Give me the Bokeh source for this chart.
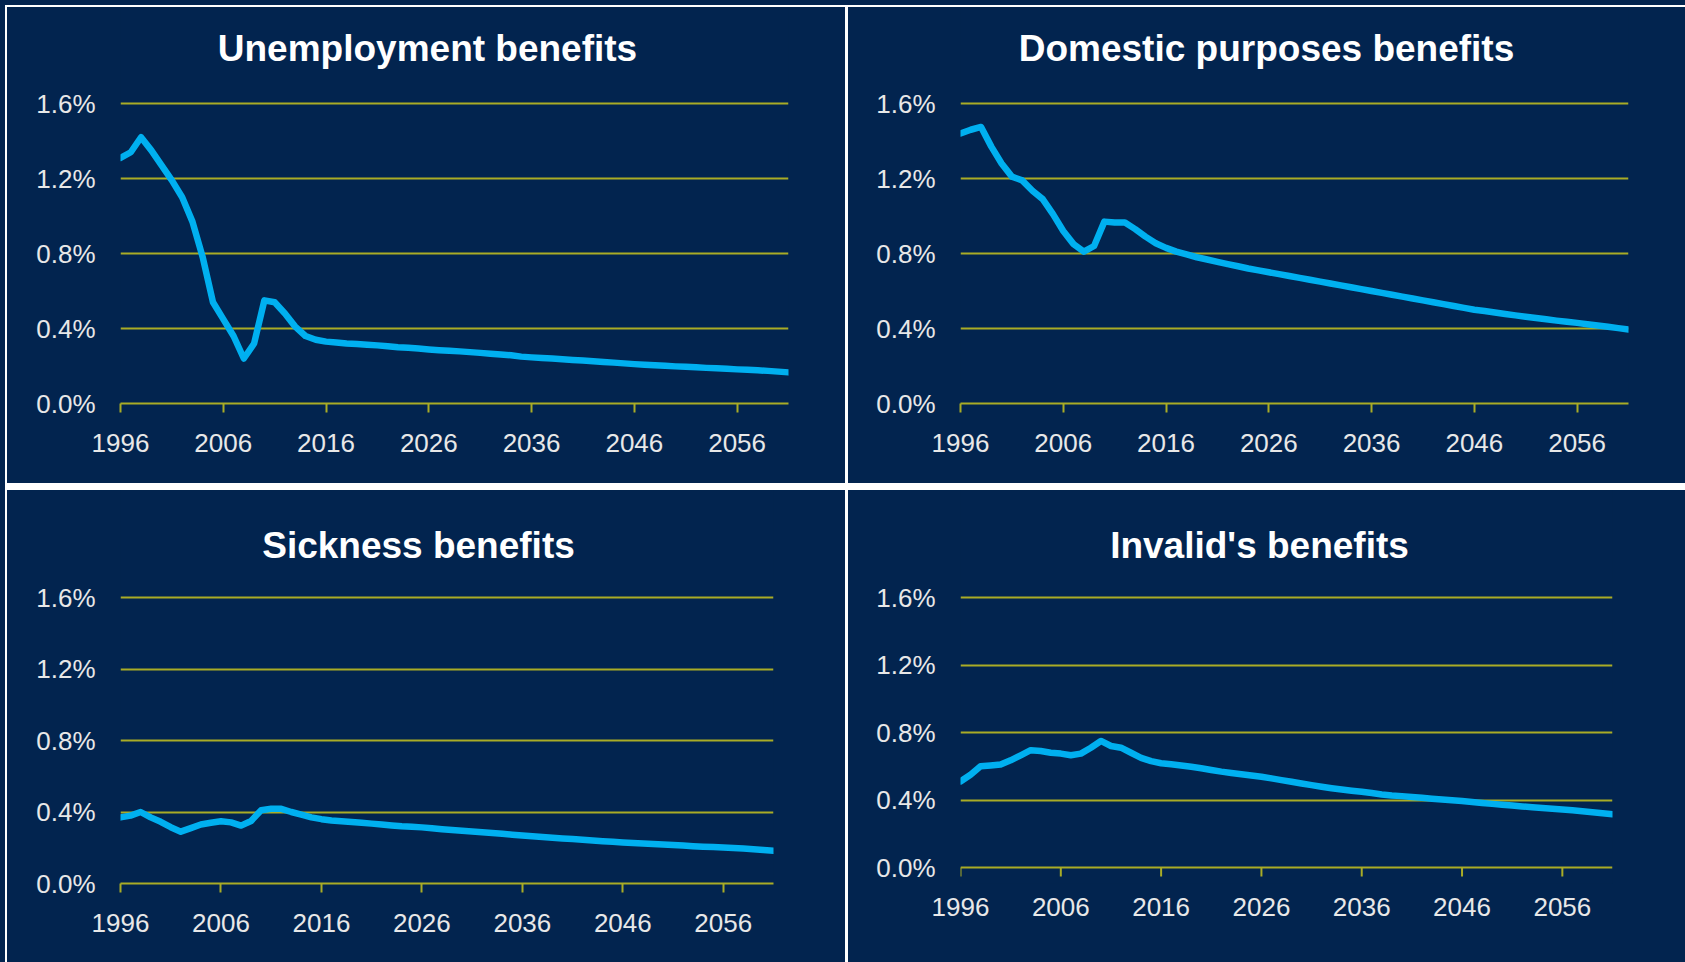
from bokeh.plotting import figure
from bokeh.layouts import row, column
from bokeh.models import Range1d, FixedTicker, PrintfTickFormatter, Spacer, Label
from bokeh.embed import file_html
from bokeh.resources import INLINE

years = list(range(1996, 2062))

unemployment = [1.31, 1.34, 1.42, 1.35, 1.27, 1.19, 1.10, 0.97, 0.78, 0.54,
                0.45, 0.36, 0.24, 0.32, 0.55, 0.54, 0.48, 0.41, 0.36, 0.34,
                0.33, 0.325, 0.32, 0.317, 0.313, 0.31, 0.305, 0.30, 0.297, 0.293,
                0.288, 0.284, 0.281, 0.278, 0.274, 0.27, 0.265, 0.261, 0.257, 0.25,
                0.246, 0.243, 0.24, 0.236, 0.232, 0.229, 0.225, 0.221, 0.218, 0.214,
                0.21, 0.207, 0.204, 0.201, 0.198, 0.196, 0.193, 0.19, 0.188, 0.185,
                0.182, 0.18, 0.177, 0.174, 0.17, 0.166]

domestic = [1.44, 1.46, 1.475, 1.37, 1.28, 1.21, 1.19, 1.135, 1.09, 1.01,
            0.92, 0.85, 0.81, 0.84, 0.97, 0.965, 0.965, 0.93, 0.89, 0.855,
            0.83, 0.81, 0.795, 0.78, 0.768, 0.755, 0.743, 0.732, 0.72, 0.71,
            0.70, 0.69, 0.68, 0.67, 0.66, 0.65, 0.64, 0.63, 0.62, 0.61,
            0.60, 0.59, 0.58, 0.57, 0.56, 0.55, 0.54, 0.53, 0.52, 0.51,
            0.50, 0.493, 0.485, 0.477, 0.47, 0.463, 0.456, 0.449, 0.442, 0.436,
            0.43, 0.423, 0.416, 0.409, 0.402, 0.395]

sickness = [0.37, 0.38, 0.40, 0.37, 0.345, 0.315, 0.29, 0.31, 0.33, 0.34,
            0.348, 0.342, 0.324, 0.35, 0.41, 0.418, 0.418, 0.40, 0.385, 0.37,
            0.36, 0.353, 0.348, 0.344, 0.34, 0.335, 0.33, 0.325, 0.32, 0.317,
            0.314, 0.309, 0.304, 0.299, 0.295, 0.291, 0.287, 0.283, 0.278, 0.273,
            0.268, 0.264, 0.26, 0.256, 0.252, 0.249, 0.245, 0.241, 0.237, 0.234,
            0.23, 0.227, 0.224, 0.221, 0.218, 0.215, 0.212, 0.209, 0.206, 0.204,
            0.202, 0.199, 0.196, 0.192, 0.188, 0.183]

invalid = [0.51, 0.55, 0.60, 0.605, 0.61, 0.635, 0.665, 0.695, 0.69, 0.68,
           0.675, 0.665, 0.675, 0.71, 0.75, 0.72, 0.71, 0.68, 0.65, 0.63,
           0.618, 0.612, 0.605, 0.597, 0.588, 0.578, 0.568, 0.56, 0.553, 0.545,
           0.538, 0.528, 0.518, 0.508, 0.498, 0.488, 0.479, 0.47, 0.462, 0.455,
           0.449, 0.441, 0.433, 0.427, 0.423, 0.418, 0.413, 0.408, 0.403, 0.398,
           0.394, 0.388, 0.382, 0.377, 0.372, 0.367, 0.362, 0.357, 0.352, 0.348,
           0.344, 0.339, 0.333, 0.328, 0.322, 0.315]

titles = ["Unemployment benefits", "Domestic purposes benefits",
          "Sickness benefits", "Invalid's benefits"]
y_ticks = [0.0, 0.4, 0.8, 1.2, 1.6]
x_ticks = [1996, 2006, 2016, 2026, 2036, 2046, 2056]

NAVY = "#02244f"
WHITE = "#ffffff"
OLIVE = "#a9ac26"
LINE = "#00b0f0"
LABEL = "#e8e8e8"
FONT = "Liberation Sans"

X0, X1 = 1996, 2061
Y_TOP = 1.6
TICK_LEN = 9


def panel(title, values, width, height, left, right, plot_top, bottom,
          title_cx, title_cy, lift=0):
    # plot_top: pixels from the canvas top to the 1.6% line.
    # lift: pixels between the frame bottom and the 0% line.
    frame_h = height - bottom
    frame_w = width - left - right
    zero_px = frame_h - lift
    k = (zero_px - plot_top) / Y_TOP          # pixels per percentage point
    y_end = zero_px / k
    y_start = -lift / k
    p = figure(width=width, height=height, output_backend="svg",
               toolbar_location=None, x_range=Range1d(X0, X1),
               y_range=Range1d(y_start, y_end),
               min_border_left=left, min_border_right=right,
               min_border_top=0, min_border_bottom=bottom,
               background_fill_color=NAVY, border_fill_color=NAVY,
               outline_line_color=None)

    tx = X0 + (title_cx - left) * (X1 - X0) / frame_w
    ty = (zero_px - title_cy) / k
    p.add_layout(Label(x=tx, y=ty, text=title, text_color=WHITE,
                       text_font=FONT, text_font_size="37px",
                       text_font_style="bold", text_align="center",
                       text_baseline="middle"))

    p.xgrid.visible = False
    p.ygrid.ticker = FixedTicker(ticks=y_ticks)
    p.ygrid.grid_line_color = OLIVE
    p.ygrid.grid_line_width = 2

    xa = p.xaxis[0]
    xa.ticker = FixedTicker(ticks=x_ticks)
    xa.formatter = PrintfTickFormatter(format="%d")
    xa.minor_tick_line_color = None
    xa.major_label_text_color = LABEL
    xa.major_label_text_font = FONT
    xa.major_label_text_font_size = "26px"
    if lift == 0:
        xa.axis_line_color = OLIVE
        xa.axis_line_width = 2
        xa.major_tick_line_color = OLIVE
        xa.major_tick_line_width = 2
        xa.major_tick_out = TICK_LEN
        xa.major_tick_in = 0
        xa.major_label_standoff = 21
    else:
        # the 0% gridline serves as the axis line; ticks hang below it
        xa.axis_line_color = None
        xa.major_tick_line_color = None
        xa.major_tick_out = 0
        xa.major_tick_in = 0
        xa.major_label_standoff = 30 - lift
        p.segment(x0=x_ticks, y0=[0] * len(x_ticks), x1=x_ticks,
                  y1=[-TICK_LEN / k] * len(x_ticks),
                  line_color=OLIVE, line_width=2)

    p.line(years, values, line_color=LINE, line_width=6.5,
           line_join="round", line_cap="round")

    ya = p.yaxis[0]
    ya.ticker = FixedTicker(ticks=y_ticks)
    ya.formatter = PrintfTickFormatter(format="%.1f%%")
    ya.axis_line_color = None
    ya.major_tick_line_color = None
    ya.minor_tick_line_color = None
    ya.major_tick_out = 0
    ya.major_tick_in = 0
    ya.major_label_text_color = LABEL
    ya.major_label_text_font = FONT
    ya.major_label_text_font_size = "26px"
    ya.major_label_standoff = 25
    return p


p1 = panel(titles[0], unemployment, 838, 476, 113, 57, 96, 80, 420, 41)
p2 = panel(titles[1], domestic, 837, 476, 112, 57, 96, 80, 418, 41)
p3 = panel(titles[2], sickness, 838, 472, 113, 72, 107, 79, 411, 55)
p4 = panel(titles[3], invalid, 837, 472, 112, 73, 107, 79, 411, 55, lift=16)


def sp(w, h, c):
    return Spacer(width=w, height=h, styles={"background-color": c})


row1 = row(sp(2, 476, WHITE), p1, sp(3, 476, WHITE), p2)
row2 = row(sp(2, 472, WHITE), p3, sp(3, 472, WHITE), p4)
inner = column(sp(1680, 2, WHITE), row1, sp(1680, 7, WHITE), row2)
body = row(sp(5, 957, NAVY), inner)
root = column(sp(1685, 5, NAVY), body, styles={"background-color": NAVY})

open("out.html", "w").write(file_html(root, INLINE))
